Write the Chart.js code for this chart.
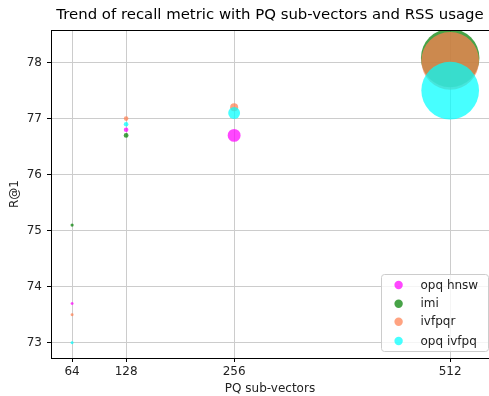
<!DOCTYPE html>
<html>
<head>
<meta charset="utf-8">
<script src="https://cdn.jsdelivr.net/npm/chart.js@4"></script>
<style>
  html, body { margin: 0; padding: 0; background: #fff; }
  canvas { display: block; }
</style>
</head>
<body>
<canvas id="c" width="489" height="396"></canvas>
<script>
// PQ sub-vector counts (x positions) and y-axis ticks
const subVectors = [64, 128, 256, 512];
const recallTicks = [73, 74, 75, 76, 77, 78];

// R@1 per index type, aligned with subVectors (null = not measured)
const opqHnswRecall  = [73.7, 76.8, 76.7, null];
const imiRecall      = [75.1, 76.7, null, 78.08];
const ivfpqrRecall   = [73.5, 77.0, 77.2, 78.03];
const opqIvfpqRecall = [73.0, 76.9, 77.1, 77.5];

// RSS usage (GB), aligned with subVectors
const opqHnswRss  = [0.14, 0.33, 2.6, null];
const imiRss      = [0.16, 0.36, null, 53.5];
const ivfpqrRss   = [0.14, 0.33, 1.0, 52];
const opqIvfpqRss = [0.14, 0.33, 2.2, 52];

const chartTitle = 'Trend of recall metric with PQ sub-vectors and RSS usage';
const seriesNames = ['opq hnsw', 'imi', 'ivfpqr', 'opq ivfpq'];
const seriesColors = ['rgba(255,0,255,0.72)', 'rgba(0,128,0,0.72)', 'rgba(255,127,80,0.72)', 'rgba(0,255,255,0.72)'];

// bubble area proportional to memory use
function radiusFor(rss) { return Math.sqrt(rss) * 4; }

function points(recall, rss) {
  const out = [];
  subVectors.forEach((x, i) => {
    if (recall[i] !== null) out.push({ x: x, y: recall[i], r: radiusFor(rss[i]) });
  });
  return out;
}

const allRecall = [opqHnswRecall, imiRecall, ivfpqrRecall, opqIvfpqRecall];
const allRss = [opqHnswRss, imiRss, ivfpqrRss, opqIvfpqRss];

const datasets = seriesNames.map((name, i) => ({
  label: name,
  data: points(allRecall[i], allRss[i]),
  backgroundColor: seriesColors[i],
  borderColor: seriesColors[i],
  borderWidth: 0,
  clip: 0,
  order: seriesNames.length - i
}));

const FONT = 'DejaVu Sans';

// title centred over the plot, top frame edge, and an inset legend
const framePlugin = {
  id: 'frameAndLegend',
  afterDraw(chart) {
    const ctx = chart.ctx;
    const a = chart.chartArea;
    ctx.save();
    ctx.strokeStyle = '#000';
    ctx.lineWidth = 1;
    ctx.beginPath();
    ctx.moveTo(a.left, a.top + 0.5);
    ctx.lineTo(a.right, a.top + 0.5);
    ctx.stroke();

    ctx.fillStyle = '#000';
    ctx.font = '14.9px "' + FONT + '"';
    ctx.textAlign = 'center';
    ctx.textBaseline = 'middle';
    ctx.fillText(chartTitle, (a.left + a.right) / 2, a.top - 14.5);

    const w = 107, h = 77;
    const right = a.right - 1, bottom = a.bottom - 7;
    const left = right - w, top = bottom - h;
    ctx.beginPath();
    if (ctx.roundRect) ctx.roundRect(left + 0.5, top + 0.5, w, h, 3);
    else ctx.rect(left + 0.5, top + 0.5, w, h);
    ctx.fillStyle = 'rgba(255,255,255,0.8)';
    ctx.fill();
    ctx.strokeStyle = '#cccccc';
    ctx.stroke();

    ctx.font = '12px "' + FONT + '"';
    ctx.textBaseline = 'middle';
    ctx.textAlign = 'left';
    const rowY = [11, 29.7, 47.7, 67];
    chart.data.datasets.forEach((ds, i) => {
      const y = top + rowY[i];
      ctx.beginPath();
      ctx.arc(left + 17.6, y, 4.2, 0, Math.PI * 2);
      ctx.fillStyle = ds.backgroundColor;
      ctx.fill();
      ctx.fillStyle = '#222';
      ctx.fillText(ds.label, left + 39.5, y + 0.5);
    });
    ctx.restore();
  }
};

new Chart(document.getElementById('c'), {
  type: 'bubble',
  data: { datasets: datasets },
  plugins: [framePlugin],
  options: {
    responsive: false,
    animation: false,
    layout: { autoPadding: false, padding: { left: 0, right: 0, top: 30, bottom: 0 } },
    plugins: {
      legend: { display: false },
      tooltip: { enabled: false },
      title: { display: false }
    },
    scales: {
      x: {
        type: 'linear',
        min: 39,
        max: 558,
        afterBuildTicks(scale) { scale.ticks = subVectors.map(v => ({ value: v })); },
        afterFit(scale) { scale.height = 38; },
        grid: { color: '#cccccc', lineWidth: 1, tickColor: '#000', tickLength: 4, drawTicks: true },
        border: { display: true, color: '#000', width: 1 },
        ticks: { color: '#222', font: { family: FONT, size: 12 }, padding: 3, maxRotation: 0, autoSkip: false },
        title: { display: true, text: 'PQ sub-vectors', color: '#222', font: { family: FONT, size: 12 }, padding: { top: 0, bottom: 0 } }
      },
      y: {
        type: 'linear',
        min: 72.73,
        max: 78.58,
        afterBuildTicks(scale) { scale.ticks = recallTicks.map(v => ({ value: v })); },
        afterFit(scale) { scale.width = 51; },
        grid: { color: '#cccccc', lineWidth: 1, tickColor: '#000', tickLength: 4, drawTicks: true },
        border: { display: true, color: '#000', width: 1 },
        ticks: { color: '#222', font: { family: FONT, size: 12 }, padding: 5, autoSkip: false },
        title: { display: true, text: 'R@1', color: '#222', font: { family: FONT, size: 12 }, padding: { top: 8, bottom: 0 } }
      }
    }
  }
});
</script>
</body>
</html>
